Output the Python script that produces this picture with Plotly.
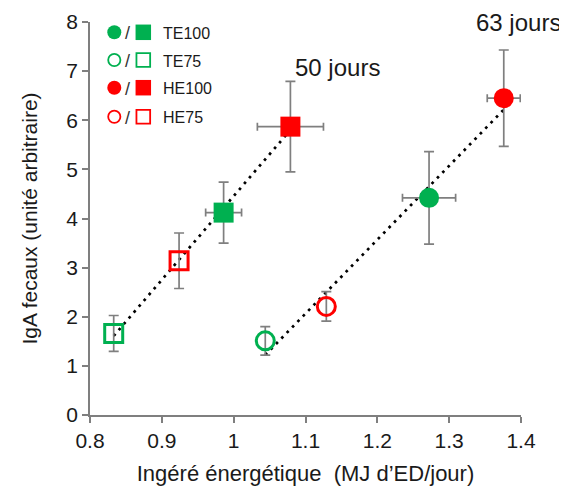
import plotly.graph_objects as go
import numpy as np

# ---- data ----
groups = ["TE100", "TE75", "HE100", "HE75"]
colors = ["#00B050", "#00B050", "#FF0000", "#FF0000"]
filled = [True, False, True, False]

# 50 jours (squares)
x50 = [0.986, 0.833, 1.079, 0.924]
y50 = [4.12, 1.66, 5.87, 3.14]
ex50 = [0.025, 0.0, 0.046, 0.0]
ey50 = [0.62, 0.365, 0.92, 0.565]

# 63 jours (circles)
x63 = [1.272, 1.044, 1.376, 1.129]
y63 = [4.42, 1.51, 6.45, 2.21]
ex63 = [0.037, 0.0, 0.023, 0.0]
ey63 = [0.94, 0.29, 0.98, 0.30]

W, H = 567, 488
OFF = 8  # page body margin
L, T = 90 - OFF, 22 - OFF
PW, PH = 431, 393
R, B = W - L - PW, H - T - PH

def px(xp):  # page pixel -> paper x
    return (xp - OFF - L) / PW

def py(yp):  # page pixel -> paper y
    return (T + PH - (yp - OFF)) / PH

fig = go.Figure()

def trend(xs, ys):
    xs = np.array(xs); ys = np.array(ys)
    a, b = np.polyfit(xs, ys, 1)
    xx = np.array([xs.min(), xs.max()])
    return xx, a * xx + b

for xs, ys in [(x50, y50), (x63, y63)]:
    tx, ty = trend(xs, ys)
    fig.add_trace(go.Scatter(x=tx, y=ty, mode="lines",
                             line=dict(color="black", width=2.7, dash="2.7px,5px"),
                             showlegend=False, hoverinfo="skip"))

def add_points(xs, ys, exs, eys, shape):
    for i in range(len(groups)):
        sym = shape if filled[i] else shape + "-open"
        fig.add_trace(go.Scatter(
            x=[xs[i]], y=[ys[i]], mode="markers",
            error_y=dict(type="data", array=[eys[i]], color="#7f7f7f", thickness=1.7, width=5),
            error_x=dict(type="data", array=[exs[i]], color="#7f7f7f", thickness=1.7, width=4,
                         visible=exs[i] > 0),
            marker=dict(symbol=sym, size=20 if filled[i] else 18, color=colors[i],
                        line=dict(color=colors[i], width=3 if not filled[i] else 0)),
            showlegend=False))

add_points(x50, y50, ex50, ey50, "square")
add_points(x63, y63, ex63, ey63, "circle")

# ---- custom legend on a paper-mapped overlay axis ----
leg_y = [32.3, 60, 87.7, 116.7]
for i, g in enumerate(groups):
    for sym, lx, sz in [("circle", 114.3, 14), ("square", 143.3, 15.5)]:
        s = sym if filled[i] else sym + "-open"
        fig.add_trace(go.Scatter(x=[px(lx)], y=[py(leg_y[i])], xaxis="x2", yaxis="y2", mode="markers",
                                 marker=dict(symbol=s, size=sz if filled[i] else sz - 1.8, color=colors[i],
                                             line=dict(color=colors[i], width=1.8 if not filled[i] else 0)),
                                 showlegend=False, hoverinfo="skip"))
    fig.add_annotation(x=px(127), y=py(leg_y[i] + 1), xref="paper", yref="paper", text="/", showarrow=False,
                       xanchor="center", yanchor="middle", font=dict(size=18, color="#333333"))
    fig.add_annotation(x=px(161), y=py(leg_y[i] + 1), xref="paper", yref="paper", text=g, showarrow=False,
                       xanchor="left", yanchor="middle", font=dict(size=16, color="#1a1a1a"))

fig.add_annotation(x=px(337.5), y=py(67.5), xref="paper", yref="paper", text="50 jours", showarrow=False,
                   xanchor="center", yanchor="middle", font=dict(size=24, color="#1a1a1a"))
fig.add_annotation(x=px(518), y=py(22.5), xref="paper", yref="paper", text="63 jours", showarrow=False,
                   xanchor="center", yanchor="middle", font=dict(size=24, color="#1a1a1a"))

axis_common = dict(showline=True, linecolor="#7f7f7f", linewidth=1.7, ticks="outside",
                   tickcolor="#7f7f7f", ticklen=6, tickwidth=1.5, showgrid=False, zeroline=False,
                   automargin=False, tickfont=dict(size=21, color="#1a1a1a"))

fig.update_layout(
    width=W, height=H,
    margin=dict(l=L, r=R, t=T, b=B),
    plot_bgcolor="white", paper_bgcolor="white",
    font=dict(family="Liberation Sans, Arial, sans-serif"),
    xaxis=dict(range=[0.8, 1.4], dtick=0.1, tickformat=".1~f",
               title=dict(text="Ingéré énergétique\u00a0 (MJ d’ED/jour)", font=dict(size=22, color="#1a1a1a"),
                          standoff=15),
               **axis_common),
    yaxis=dict(range=[0, 8], dtick=1,
               title=dict(text="IgA fecaux (unité arbitraire)", font=dict(size=21, color="#1a1a1a"),
                          standoff=23),
               **axis_common),
    xaxis2=dict(range=[0, 1], overlaying="x", visible=False, fixedrange=True),
    yaxis2=dict(range=[0, 1], overlaying="y", visible=False, fixedrange=True),
)

fig.write_html("out.html")
